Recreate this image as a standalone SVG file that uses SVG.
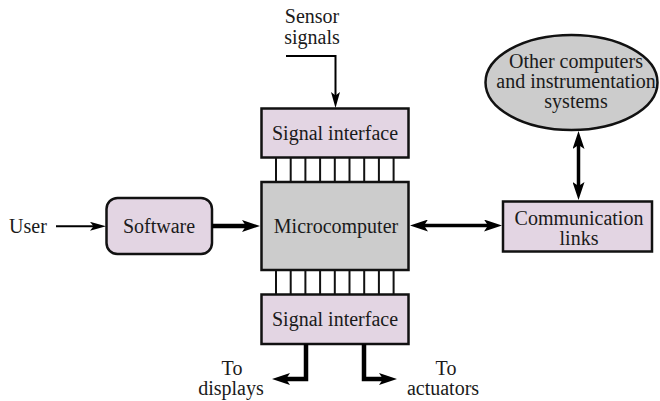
<svg xmlns="http://www.w3.org/2000/svg" width="660" height="401" viewBox="0 0 660 401">
<style>
text{font-family:"Liberation Serif","Times New Roman",serif;font-size:20px;fill:#1a1a1a;text-anchor:middle}
.pink{fill:#e3d5e3;stroke:#111;stroke-width:2.5}
.grey{fill:#cccccc;stroke:#111;stroke-width:2.5}
.thin{fill:none;stroke:#000;stroke-width:2}
.thick{fill:none;stroke:#000;stroke-width:4.5;stroke-linejoin:miter}
.mid{fill:none;stroke:#000;stroke-width:3.5}
.bus{stroke:#111;stroke-width:2}
</style>
<defs>
<marker id="a" viewBox="0 0 16 9" refX="5" refY="4.5" markerWidth="16" markerHeight="9" markerUnits="userSpaceOnUse" orient="auto-start-reverse"><path d="M0,0 L16,4.5 L0,9 L3.5,4.5 z" fill="#000"/></marker>
<marker id="b" viewBox="0 0 18 12" refX="6" refY="6" markerWidth="18" markerHeight="12" markerUnits="userSpaceOnUse" orient="auto-start-reverse"><path d="M0,0 L18,6 L0,12 L4,6 z" fill="#000"/></marker>
</defs>

<g id="sensor-label"><text x="312" y="23">Sensor</text><text x="312" y="44">signals</text></g>
<g id="user-label"><text x="28" y="233">User</text></g>
<g id="displays-label"><text x="232" y="375">To</text><text x="231" y="395">displays</text></g>
<g id="actuators-label"><text x="446" y="375">To</text><text x="443" y="395">actuators</text></g>

<g id="signal-interface-top"><rect class="pink" x="261.5" y="108.5" width="147" height="49"/><text x="335" y="139.5">Signal interface</text></g>
<g id="microcomputer"><rect class="grey" x="261.5" y="182" width="147" height="88"/><text x="336" y="233">Microcomputer</text></g>
<g id="signal-interface-bottom"><rect class="pink" x="261.5" y="294.5" width="147" height="49.5"/><text x="335" y="326">Signal interface</text></g>
<g id="software"><rect class="pink" x="106.5" y="198" width="105.5" height="56" rx="11"/><text x="159" y="233.3">Software</text></g>
<g id="communication-links"><rect class="pink" x="503" y="201.5" width="149" height="50"/><text x="579" y="224.5">Communication</text><text x="579" y="244.5">links</text></g>
<g id="other-computers"><ellipse class="grey" cx="571.5" cy="82.5" rx="86" ry="47.5"/><text x="576" y="67.5">Other computers</text><text x="576" y="88">and instrumentation</text><text x="576" y="108">systems</text></g>

<g id="connectors">
<g class="bus">
<line x1="276" y1="157" x2="276" y2="182"/><line x1="290.7" y1="157" x2="290.7" y2="182"/><line x1="305.4" y1="157" x2="305.4" y2="182"/><line x1="320.1" y1="157" x2="320.1" y2="182"/><line x1="334.8" y1="157" x2="334.8" y2="182"/><line x1="349.5" y1="157" x2="349.5" y2="182"/><line x1="364.2" y1="157" x2="364.2" y2="182"/><line x1="378.9" y1="157" x2="378.9" y2="182"/><line x1="393.6" y1="157" x2="393.6" y2="182"/>
<line x1="276" y1="270" x2="276" y2="294.5"/><line x1="290.7" y1="270" x2="290.7" y2="294.5"/><line x1="305.4" y1="270" x2="305.4" y2="294.5"/><line x1="320.1" y1="270" x2="320.1" y2="294.5"/><line x1="334.8" y1="270" x2="334.8" y2="294.5"/><line x1="349.5" y1="270" x2="349.5" y2="294.5"/><line x1="364.2" y1="270" x2="364.2" y2="294.5"/><line x1="378.9" y1="270" x2="378.9" y2="294.5"/><line x1="393.6" y1="270" x2="393.6" y2="294.5"/>
</g>
<path class="thin" d="M286,56 H335.5 V97" marker-end="url(#a)"/>
<path class="thin" d="M56,226.3 H95" marker-end="url(#a)"/>
<path class="thick" d="M212,226 H248" marker-end="url(#b)"/>
<path class="mid" d="M422,225.5 H490" marker-start="url(#b)" marker-end="url(#b)"/>
<path class="mid" d="M578.5,143 V188" marker-start="url(#b)" marker-end="url(#b)"/>
<path class="thick" d="M306,344 V379 H284" marker-end="url(#b)"/>
<path class="thick" d="M364,344 V379 H385" marker-end="url(#b)"/>
</g>
</svg>
